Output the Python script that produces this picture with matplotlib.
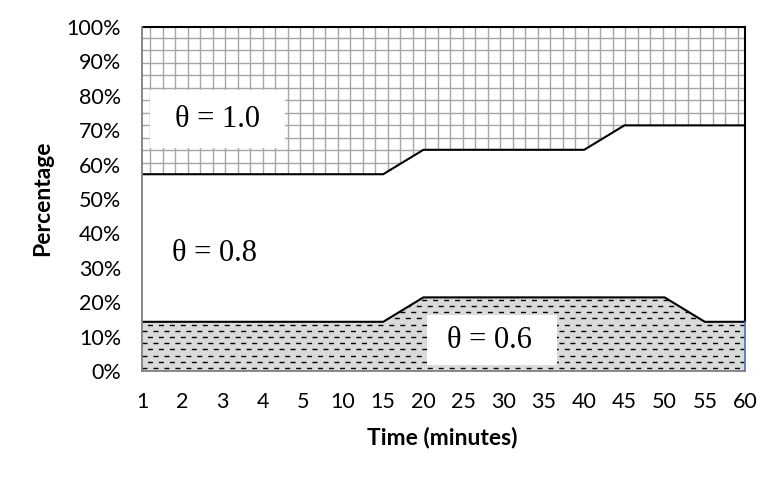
import numpy as np
import matplotlib.pyplot as plt
from matplotlib.collections import LineCollection
from matplotlib.patches import Rectangle

# categories on the x axis (Excel-style category axis)
time_labels = ['1', '2', '3', '4', '5', '10', '15', '20', '25', '30', '35', '40', '45', '50', '55', '60']

# share of each theta setting, in percent (stacked, sums to 100)
theta_06 = [14.3, 14.3, 14.3, 14.3, 14.3, 14.3, 14.3, 21.4, 21.4, 21.4, 21.4, 21.4, 21.4, 21.4, 14.3, 14.3]
theta_08 = [42.9, 42.9, 42.9, 42.9, 42.9, 42.9, 42.9, 42.9, 42.9, 42.9, 42.9, 42.9, 50.0, 50.0, 57.1, 57.1]
theta_10 = [42.8, 42.8, 42.8, 42.8, 42.8, 42.8, 42.8, 35.7, 35.7, 35.7, 35.7, 35.7, 28.6, 28.6, 28.6, 28.6]

series_labels = ['θ = 0.6', 'θ = 0.8', 'θ = 1.0']
y_ticks = [0, 10, 20, 30, 40, 50, 60, 70, 80, 90, 100]

plt.rcParams['font.family'] = ['Lato', 'DejaVu Sans']
serif = ['Liberation Serif', 'DejaVu Serif']

W, H = 780, 480
fig = plt.figure(figsize=(W / 100, H / 100), dpi=100)
# plot area in pixels: x 142..745, y 27..371
ax = fig.add_axes([142 / W, 1 - 371 / H, 603 / W, 344 / H])
ax_w, ax_h = 603.0, 344.0

x = np.arange(len(time_labels))
cum1 = np.array(theta_06)
cum2 = cum1 + np.array(theta_08)
cum3 = cum2 + np.array(theta_10)

low = ax.fill_between(x, 0, cum1, facecolor='#dadada', edgecolor='none', zorder=1)
mid = ax.fill_between(x, cum1, cum2, facecolor='white', edgecolor='none', zorder=1)
high = ax.fill_between(x, cum2, cum3, facecolor='white', edgecolor='none', zorder=1)

# grid pattern for theta = 1.0 (drawn in axes fraction, clipped to the area)
segs = []
for px in np.arange(8, ax_w, 12.5):
    segs.append([(px / ax_w, 0), (px / ax_w, 1)])
for py in np.arange(10.7, ax_h, 12.5):
    segs.append([(0, 1 - py / ax_h), (1, 1 - py / ax_h)])
grid = LineCollection(segs, colors='#a6a6a6', linewidths=1.0, transform=ax.transAxes, zorder=2)
grid.set_clip_path(high.get_paths()[0], ax.transData)
ax.add_collection(grid, autolim=False)

# dashed pattern for theta = 0.6
dsegs, dstyles = [], []
for i, py in enumerate(np.arange(3, ax_h, 6.2)):
    dsegs.append([(0, py / ax_h), (1, py / ax_h)])
    dstyles.append((0 if i % 2 == 0 else 4, (3.6, 4.3)))
dashes = LineCollection(dsegs, colors='black', linewidths=1.0, linestyles=dstyles,
                        transform=ax.transAxes, zorder=2)
dashes.set_clip_path(low.get_paths()[0], ax.transData)
ax.add_collection(dashes, autolim=False)

# series borders
for c in (cum1, cum2, cum3):
    ax.plot(x, c, color='black', lw=1.5, zorder=4, clip_on=False, solid_capstyle='butt')
ax.plot([x[-1], x[-1]], [cum1[-1], cum3[-1]], color='black', lw=1.5, zorder=4, clip_on=False)
ax.plot([x[-1], x[-1]], [0, cum1[-1]], color='#4472c4', lw=1.2, zorder=4, clip_on=False)

# white label boxes
ax.add_patch(Rectangle((0.013, 0.648), 0.224, 0.169, transform=ax.transAxes,
                       facecolor='white', edgecolor='none', zorder=3))
ax.add_patch(Rectangle((0.473, 0.017), 0.215, 0.146, transform=ax.transAxes,
                       facecolor='white', edgecolor='none', zorder=3))
ax.text(0.126, 0.730, series_labels[2], transform=ax.transAxes, ha='center', va='center',
        fontsize=22, family=serif, zorder=5)
ax.text(0.121, 0.343, series_labels[1], transform=ax.transAxes, ha='center', va='center',
        fontsize=22, family=serif, zorder=5)
ax.text(0.577, 0.090, series_labels[0], transform=ax.transAxes, ha='center', va='center',
        fontsize=22, family=serif, zorder=5)

ax.set_xlim(x[0], x[-1])
ax.set_ylim(0, 100)
ax.set_xticks(x)
ax.set_xticklabels(time_labels)
ax.set_yticks(y_ticks)
ax.set_yticklabels([f'{v}%' for v in y_ticks])
ax.tick_params(length=0, pad=15, labelsize=15.5)

for s in ('top', 'right'):
    ax.spines[s].set_visible(False)
for s in ('left', 'bottom'):
    ax.spines[s].set_color('#7f7f7f')
    ax.spines[s].set_linewidth(1.3)
    ax.spines[s].set_zorder(6)

fig.text(442 / W, 1 - 437 / H, 'Time (minutes)', ha='center', va='center',
         fontsize=16.5, fontweight='bold')
fig.text(43 / W, 1 - 198 / H, 'Percentage', ha='center', va='center', rotation=90,
         fontsize=16.5, fontweight='bold')

fig.savefig('out.png', dpi=100)
